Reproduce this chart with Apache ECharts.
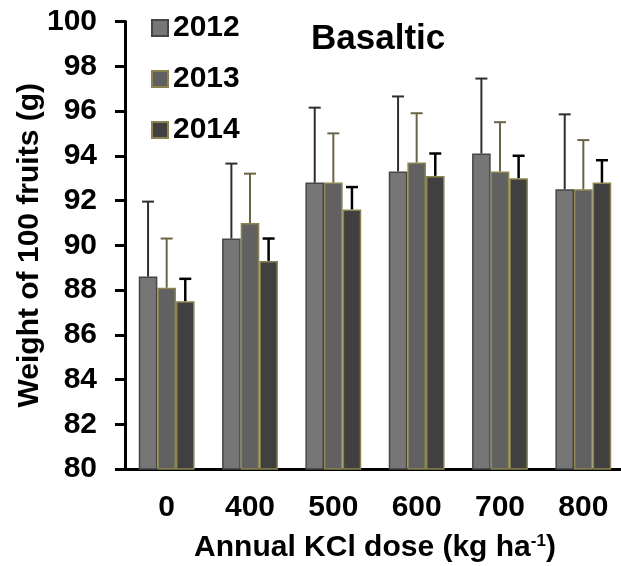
<!DOCTYPE html>
<html>
<head>
<meta charset="utf-8">
<script src="https://cdn.jsdelivr.net/npm/echarts@6/dist/echarts.min.js"></script>
<style>
  html, body { margin: 0; padding: 0; background: #fff; }
  #main { width: 621px; height: 566px; }
</style>
</head>
<body>
<div id="main"></div>
<script>
const categories = ['0', '400', '500', '600', '700', '800']
const years = ['2012', '2013', '2014']
const weight2012 = [88.6, 90.3, 92.8, 93.3, 94.1, 92.5]
const weight2013 = [88.1, 91.0, 92.8, 93.7, 93.3, 92.5]
const weight2014 = [87.5, 89.3, 91.6, 93.1, 93.0, 92.8]
const err2012 = [3.35, 3.35, 3.35, 3.35, 3.35, 3.35]
const err2013 = [2.2, 2.2, 2.2, 2.2, 2.2, 2.2]
const err2014 = [1.0, 1.0, 1.0, 1.0, 1.0, 1.0]

const font = "'Liberation Sans', Arial, sans-serif"
const catGap = 0.33

const chart = echarts.init(document.getElementById('main'))

// error bar (upper only) drawn at the centre of bar number idx in the group
const errorBar = (idx, color, width) => (params, api) => {
  const cat = api.value(0)
  const val = api.value(1)
  const err = api.value(2)
  const band = api.size([1, 0])[0]
  const groupW = band * (1 - catGap)
  const base = api.coord([cat, val])
  const top = api.coord([cat, val + err])
  const x = base[0] - groupW / 2 + (idx + 0.5) * groupW / 3
  const half = 6
  const style = { stroke: color, lineWidth: width }
  return {
    type: 'group',
    children: [
      { type: 'line', shape: { x1: x, y1: base[1], x2: x, y2: top[1] }, style },
      { type: 'line', shape: { x1: x - half, y1: top[1], x2: x + half, y2: top[1] }, style }
    ]
  }
}

const errData = (vals, errs) => vals.map((v, i) => [i, v, errs[i]])

const option = {
  animation: false,
  title: {
    text: 'Basaltic',
    left: 311,
    top: 22,
    padding: 0,
    textStyle: { fontFamily: font, fontSize: 35, fontWeight: 'bold', color: '#000' }
  },
  legend: {
    data: years,
    orient: 'vertical',
    left: 151,
    top: 13,
    padding: 0,
    itemGap: 21,
    icon: 'rect',
    itemWidth: 16,
    itemHeight: 16,
    textStyle: { fontFamily: font, fontSize: 30, fontWeight: 'bold', color: '#000', lineHeight: 30 }
  },
  grid: { left: 125, right: -4, top: 21.5, bottom: 97, outerBoundsMode: 'none' },
  xAxis: {
    type: 'category',
    data: categories,
    name: 'Annual KCl dose (kg ha{sup|-1})',
    nameLocation: 'middle',
    nameGap: 64,
    nameMoveOverlap: false,
    nameTextStyle: {
      fontFamily: font, fontSize: 30, fontWeight: 'bold', color: '#000',
      rich: {
        sup: { fontFamily: font, fontSize: 17, fontWeight: 'bold', color: '#000', verticalAlign: 'top', lineHeight: 17 }
      }
    },
    axisLine: { lineStyle: { color: '#000', width: 3 } },
    axisTick: { length: 10, lineStyle: { color: '#000', width: 3 } },
    axisLabel: { margin: 24, fontFamily: font, fontSize: 30, fontWeight: 'bold', color: '#000' }
  },
  yAxis: {
    type: 'value',
    min: 80,
    max: 100,
    interval: 2,
    name: 'Weight of 100 fruits (g)',
    nameLocation: 'middle',
    nameGap: 80,
    nameMoveOverlap: false,
    nameTextStyle: { fontFamily: font, fontSize: 30, fontWeight: 'bold', color: '#000' },
    axisLine: { show: true, lineStyle: { color: '#000', width: 3 } },
    axisTick: { show: true, length: 10, lineStyle: { color: '#000', width: 3 } },
    axisLabel: { margin: 28, fontFamily: font, fontSize: 30, fontWeight: 'bold', color: '#000' },
    splitLine: { show: false }
  },
  series: [
    {
      name: '2012',
      type: 'bar',
      data: weight2012,
      barGap: 0,
      barCategoryGap: '33%',
      itemStyle: { color: '#767676', borderColor: '#464646', borderWidth: 1.5 }
    },
    {
      name: '2013',
      type: 'bar',
      data: weight2013,
      barGap: 0,
      barCategoryGap: '33%',
      itemStyle: { color: '#616161', borderColor: '#8c8450', borderWidth: 1.5 }
    },
    {
      name: '2014',
      type: 'bar',
      data: weight2014,
      barGap: 0,
      barCategoryGap: '33%',
      itemStyle: { color: '#404040', borderColor: '#8c8450', borderWidth: 1.5 }
    },
    // error bars
    {
      type: 'custom',
      renderItem: errorBar(0, '#2e2e2e', 2),
      data: errData(weight2012, err2012),
      encode: { x: 0, y: 1 },
      z: 3
    },
    {
      type: 'custom',
      renderItem: errorBar(1, '#6b6548', 2),
      data: errData(weight2013, err2013),
      encode: { x: 0, y: 1 },
      z: 3
    },
    {
      type: 'custom',
      renderItem: errorBar(2, '#000', 2.5),
      data: errData(weight2014, err2014),
      encode: { x: 0, y: 1 },
      z: 3
    }
  ]
}

option && chart.setOption(option)
</script>
</body>
</html>
